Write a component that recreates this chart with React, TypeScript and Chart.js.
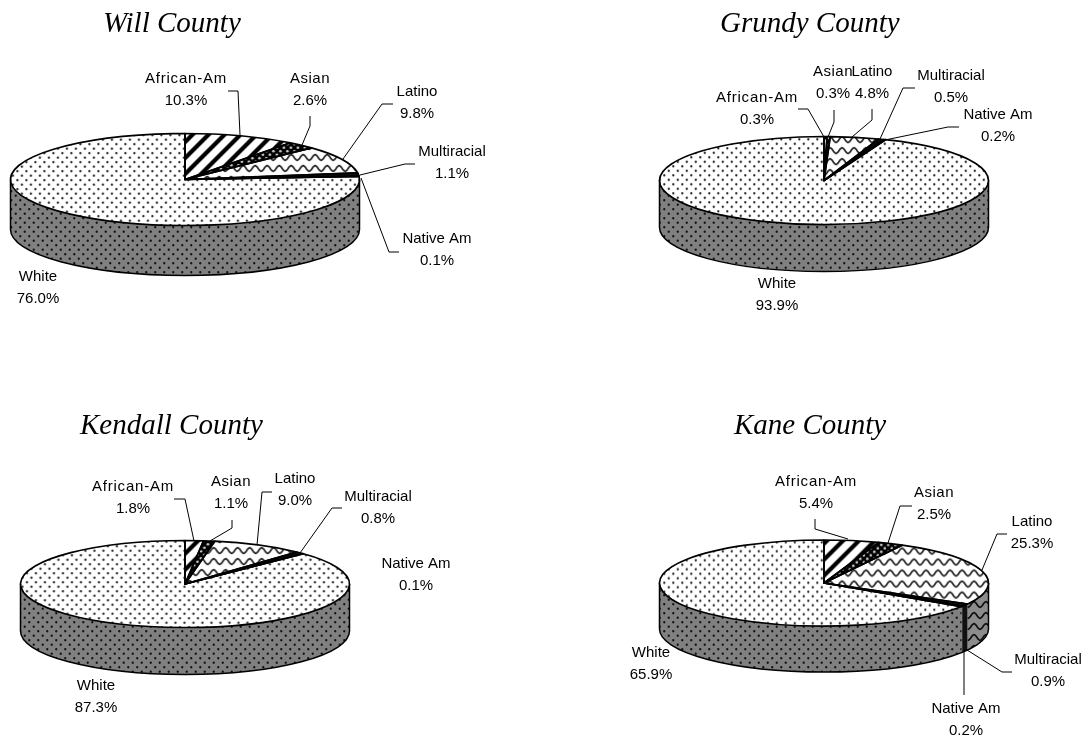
import React, { useEffect, useRef } from "react";
import { Chart, registerables } from "chart.js";

Chart.register(...registerables);

const categories = ["African-Am", "Asian", "Latino", "Multiracial", "Native Am", "White"];
const counties = ["Will County", "Grundy County", "Kendall County", "Kane County"];
const willValues = [10.3, 2.6, 9.8, 1.1, 0.1, 76.0];
const grundyValues = [0.3, 0.3, 4.8, 0.5, 0.2, 93.9];
const kendallValues = [1.8, 1.1, 9.0, 0.8, 0.1, 87.3];
const kaneValues = [5.4, 2.5, 25.3, 0.9, 0.2, 65.9];
const seriesValues = [willValues, grundyValues, kendallValues, kaneValues];
const labelTracking = ["0.8px", "0.5px", "0px", "0px", "0px", "0px"];

type Pt = [number, number];
type LabelLayout = { x: number; y: number; line?: Pt[] };
type Panel = {
  left: number; top: number; width: number; height: number;
  cx: number; cy: number; rx: number; ry: number; depth: number;
  titleX: number; titleY: number; labels: LabelLayout[];
};

const panels: Panel[] = [
  {
    left: 0, top: 0, width: 545, height: 368,
    cx: 185, cy: 179.5, rx: 174.5, ry: 46, depth: 50, titleX: 103, titleY: 32,
    labels: [
      { x: 186, y: 79, line: [[228, 91], [238, 91], [240, 135]] },
      { x: 310, y: 79, line: [[310, 116], [310, 126], [302, 145]] },
      { x: 417, y: 92, line: [[393, 104], [382, 104], [343, 159]] },
      { x: 452, y: 152, line: [[415, 164], [405, 164], [360, 175]] },
      { x: 437, y: 239, line: [[399, 252], [389, 252], [361, 178]] },
      { x: 38, y: 277 },
    ],
  },
  {
    left: 545, top: 0, width: 545, height: 368,
    cx: 824, cy: 180.5, rx: 164.5, ry: 44, depth: 47, titleX: 720, titleY: 32,
    labels: [
      { x: 757, y: 98, line: [[798, 109], [808, 109], [824, 137]] },
      { x: 833, y: 72, line: [[834, 110], [834, 122], [828, 137]] },
      { x: 872, y: 72, line: [[872, 109], [872, 120], [852, 137]] },
      { x: 951, y: 76, line: [[915, 88], [903, 88], [880, 139]] },
      { x: 998, y: 115, line: [[959, 127], [948, 127], [885, 140]] },
      { x: 777, y: 284 },
    ],
  },
  {
    left: 0, top: 368, width: 545, height: 369,
    cx: 185, cy: 584, rx: 164.5, ry: 43.5, depth: 47, titleX: 80, titleY: 434,
    labels: [
      { x: 133, y: 487, line: [[174, 499], [185, 499], [194, 541]] },
      { x: 231, y: 482, line: [[232, 520], [232, 528], [210, 541]] },
      { x: 295, y: 479, line: [[272, 492], [262, 492], [257, 545]] },
      { x: 378, y: 497, line: [[342, 508], [332, 508], [300, 553]] },
      { x: 416, y: 564 },
      { x: 96, y: 686 },
    ],
  },
  {
    left: 545, top: 368, width: 545, height: 369,
    cx: 824, cy: 583, rx: 164.5, ry: 43, depth: 46, titleX: 734, titleY: 434,
    labels: [
      { x: 816, y: 482, line: [[815, 519], [815, 529], [848, 539]] },
      { x: 934, y: 493, line: [[912, 506], [900, 506], [888, 543]] },
      { x: 1032, y: 522, line: [[1007, 534], [997, 534], [982, 570]] },
      { x: 1048, y: 660, line: [[1012, 672], [1002, 672], [967, 650]] },
      { x: 966, y: 709, line: [[964, 695], [964, 650]] },
      { x: 651, y: 653 },
    ],
  },
];

function tile(w: number, h: number, bg: string, paint: (c: CanvasRenderingContext2D) => void) {
  const t = document.createElement("canvas");
  t.width = w;
  t.height = h;
  const c = t.getContext("2d")!;
  c.fillStyle = bg;
  c.fillRect(0, 0, w, h);
  paint(c);
  return t;
}

const dots = (color: string, r: number, size: number) => (c: CanvasRenderingContext2D) => {
  c.fillStyle = color;
  for (const [x, y] of [[size * 0.25, size * 0.25], [size * 0.75, size * 0.75]]) {
    c.beginPath();
    c.arc(x, y, r, 0, Math.PI * 2);
    c.fill();
  }
};

const stripes = (color: string) => (c: CanvasRenderingContext2D) => {
  c.strokeStyle = color;
  c.lineWidth = 4.2;
  for (const o of [-16, 0, 16]) {
    c.beginPath();
    c.moveTo(o - 2, 18);
    c.lineTo(o + 18, -2);
    c.stroke();
  }
};

const wave = (color: string) => (c: CanvasRenderingContext2D) => {
  c.strokeStyle = color;
  c.lineWidth = 1.7;
  c.beginPath();
  for (let x = -1; x <= 13; x += 0.5) {
    const y = 5.5 + 2.8 * Math.sin((x / 12) * Math.PI * 2);
    if (x === -1) c.moveTo(x, y);
    else c.lineTo(x, y);
  }
  c.stroke();
};

const topTiles = () => [
  tile(16, 16, "#ffffff", stripes("#000000")),
  tile(7, 7, "#000000", dots("#d0d0d0", 1.35, 7)),
  tile(12, 11, "#ffffff", wave("#222222")),
  tile(4, 4, "#111111", () => {}),
  tile(4, 4, "#000000", () => {}),
  tile(9, 9, "#ffffff", dots("#222222", 1.15, 9)),
];

const sideTiles = () => [
  tile(16, 16, "#808080", stripes("#000000")),
  tile(7, 7, "#000000", dots("#808080", 1.35, 7)),
  tile(12, 11, "#8c8c8c", wave("#111111")),
  tile(4, 4, "#111111", () => {}),
  tile(4, 4, "#000000", () => {}),
  tile(9, 9, "#808080", dots("#111111", 1.15, 9)),
];

function countyChart(canvas: HTMLCanvasElement, index: number) {
  const p = panels[index];
  const R = 100;
  const ctx0 = canvas.getContext("2d")!;
  const localX = p.cx - p.left;
  const localY = p.cy - p.top;
  const sx = p.rx / R;
  const sy = p.ry / R;
  const topPatterns = topTiles().map((t) => {
    const pat = ctx0.createPattern(t, "repeat")!;
    pat.setTransform(new DOMMatrix().scale(1 / sx, 1 / sy));
    return pat;
  });
  const sidePatterns = sideTiles().map((t) => ctx0.createPattern(t, "repeat")!);

  const pie3d = {
    id: "pie3d",
    beforeDatasetsDraw(chart: any) {
      const ctx: CanvasRenderingContext2D = chart.ctx;
      const arcs = chart.getDatasetMeta(0).data;
      ctx.save();
      ctx.lineWidth = 1.5;
      ctx.strokeStyle = "#000";
      // outer wall: only the part of each slice that faces the viewer
      arcs.forEach((arc: any, i: number) => {
        const a = Math.max(arc.startAngle, 0);
        const b = Math.min(arc.endAngle, Math.PI);
        if (b <= a) return;
        ctx.beginPath();
        ctx.ellipse(localX, localY, p.rx, p.ry, 0, a, b);
        ctx.ellipse(localX, localY + p.depth, p.rx, p.ry, 0, b, a, true);
        ctx.closePath();
        ctx.fillStyle = sidePatterns[i];
        ctx.fill();
      });
      ctx.beginPath();
      ctx.moveTo(localX + p.rx, localY);
      ctx.lineTo(localX + p.rx, localY + p.depth);
      ctx.ellipse(localX, localY + p.depth, p.rx, p.ry, 0, 0, Math.PI);
      ctx.lineTo(localX - p.rx, localY);
      ctx.stroke();
      ctx.restore();
      // squash the library's own round pie into the tilted top face
      ctx.save();
      ctx.translate(localX, localY);
      ctx.scale(sx, sy);
      ctx.translate(-localX, -localY);
    },
    afterDatasetsDraw(chart: any) {
      const ctx: CanvasRenderingContext2D = chart.ctx;
      ctx.restore();
      const arcs = chart.getDatasetMeta(0).data;
      ctx.save();
      ctx.strokeStyle = "#000";
      ctx.lineWidth = 1.7;
      ctx.lineJoin = "round";
      arcs.forEach((arc: any) => {
        ctx.beginPath();
        ctx.moveTo(localX, localY);
        ctx.ellipse(localX, localY, p.rx, p.ry, 0, arc.startAngle, arc.endAngle);
        ctx.closePath();
        ctx.stroke();
      });
      ctx.restore();
    },
    afterDraw(chart: any) {
      const ctx: CanvasRenderingContext2D = chart.ctx;
      ctx.save();
      ctx.translate(-p.left, -p.top);
      ctx.fillStyle = "#000";
      ctx.font = "italic 29px 'Liberation Serif'";
      ctx.textAlign = "left";
      ctx.textBaseline = "alphabetic";
      ctx.fillText(counties[index], p.titleX, p.titleY);
      ctx.font = "15px 'Liberation Sans'";
      ctx.textAlign = "center";
      ctx.textBaseline = "middle";
      ctx.strokeStyle = "#000";
      ctx.lineWidth = 1;
      p.labels.forEach((l, i) => {
        (ctx as any).letterSpacing = labelTracking[i];
        ctx.fillText(categories[i], l.x, l.y);
        (ctx as any).letterSpacing = "0px";
        ctx.fillText(seriesValues[index][i].toFixed(1) + "%", l.x, l.y + 22);
        if (l.line) {
          ctx.beginPath();
          l.line.forEach(([x, y], k) => (k ? ctx.lineTo(x, y) : ctx.moveTo(x, y)));
          ctx.stroke();
        }
      });
      ctx.restore();
    },
  };

  return new Chart(canvas, {
    type: "pie",
    data: {
      labels: categories,
      datasets: [
        {
          data: seriesValues[index],
          backgroundColor: topPatterns as any,
          borderWidth: 0,
          clip: false as any,
        },
      ],
    },
    options: {
      responsive: false,
      animation: false,
      devicePixelRatio: 1,
      events: [],
      layout: {
        padding: {
          left: localX - R,
          right: p.width - localX - R,
          top: localY - R,
          bottom: p.height - localY - R,
        },
      },
      plugins: { legend: { display: false }, title: { display: false }, tooltip: { enabled: false } },
    },
    plugins: [pie3d],
  } as any);
}

function CountyPie({ index }: { index: number }) {
  const ref = useRef<HTMLCanvasElement>(null);
  const p = panels[index];
  useEffect(() => {
    const chart = countyChart(ref.current!, index);
    return () => chart.destroy();
  }, [index]);
  return (
    <canvas
      ref={ref}
      width={p.width}
      height={p.height}
      style={{ position: "absolute", left: p.left, top: p.top, width: p.width, height: p.height, filter: "blur(0.35px)" }}
    />
  );
}

export default function App() {
  return (
    <div style={{ position: "absolute", left: 0, top: 0, width: 1090, height: 737, overflow: "hidden", background: "#fff" }}>
      {panels.map((_, i) => (
        <CountyPie key={i} index={i} />
      ))}
    </div>
  );
}
